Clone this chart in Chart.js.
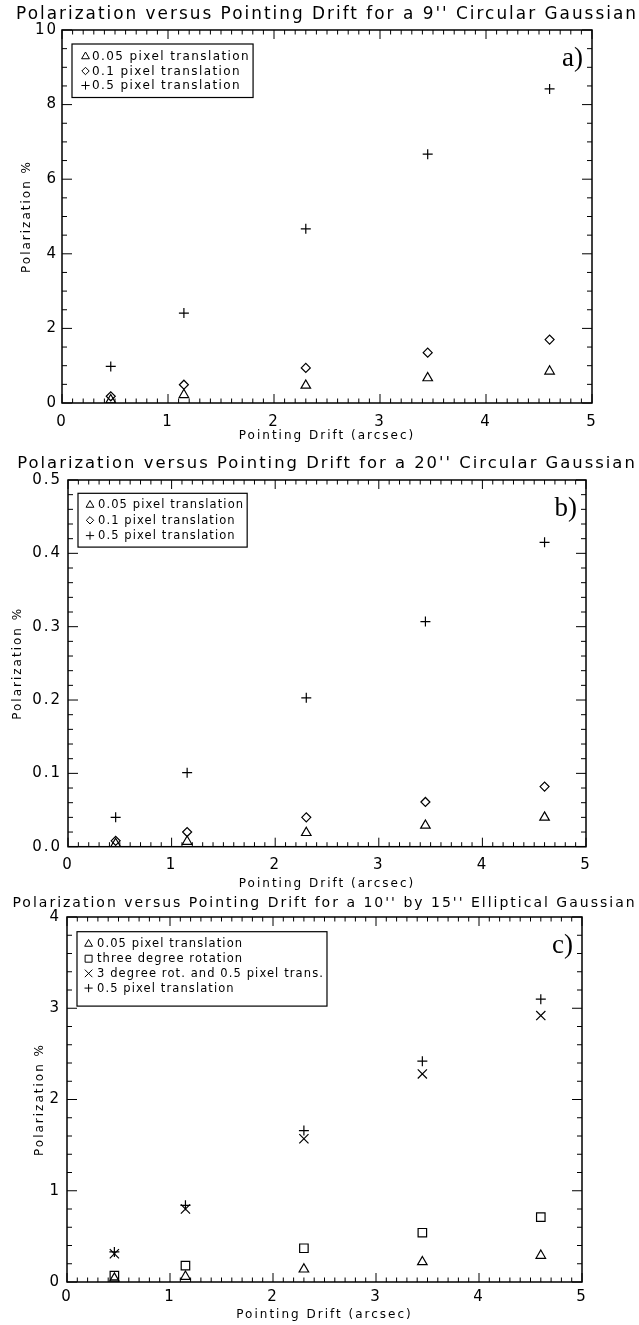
<!DOCTYPE html>
<html>
<head>
<meta charset="utf-8">
<script src="https://cdn.jsdelivr.net/npm/chart.js@4.4.1/dist/chart.umd.min.js"></script>
<style>
  html, body { margin: 0; padding: 0; background: #fff; }
  body { width: 639px; height: 1325px; position: relative; overflow: hidden; }
  .panel { position: absolute; left: 0; width: 639px; }
</style>
</head>
<body>
<div class="panel" style="top:0;height:446px"><canvas id="chartA"></canvas></div>
<div class="panel" style="top:446px;height:448px"><canvas id="chartB"></canvas></div>
<div class="panel" style="top:894px;height:431px"><canvas id="chartC"></canvas></div>
<script>
// pointing drift (arcsec), same for every panel
var drift = [0.46, 1.15, 2.3, 3.45, 4.6];

// a) 9'' circular gaussian
var aTri  = [0.08, 0.22, 0.47, 0.67, 0.85];
var aDia  = [0.18, 0.49, 0.94, 1.35, 1.70];
var aPlus = [0.98, 2.41, 4.67, 6.67, 8.42];

// b) 20'' circular gaussian
var bTri  = [0.004, 0.007, 0.019, 0.029, 0.040];
var bDia  = [0.008, 0.020, 0.040, 0.061, 0.082];
var bPlus = [0.040, 0.101, 0.203, 0.307, 0.415];

// c) 10'' by 15'' elliptical gaussian
var cTri  = [0.04, 0.06, 0.14, 0.22, 0.29];
var cSq   = [0.07, 0.18, 0.37, 0.54, 0.71];
var cX    = [0.31, 0.80, 1.57, 2.28, 2.92];
var cPlus = [0.33, 0.84, 1.66, 2.42, 3.10];

var namesAB = ["0.05 pixel translation", "0.1 pixel translation", "0.5 pixel translation"];
var namesC = ["0.05 pixel translation", "three degree rotation",
              "3 degree rot. and 0.5 pixel trans.", "0.5 pixel translation"];

var xTicks = [0, 1, 2, 3, 4, 5];
var yTicksA = [0, 2, 4, 6, 8, 10];
var yTicksB = [0.0, 0.1, 0.2, 0.3, 0.4, 0.5];
var yTicksC = [0, 1, 2, 3, 4];

var FONT = "DejaVu Sans";
var W = 639;

function isMajor(v, m) {
  return Math.abs(v / m - Math.round(v / m)) < 1e-6;
}

function series(label, values, style, radius) {
  return {
    label: label,
    data: values.map(function (v, i) { return { x: drift[i], y: v }; }),
    pointStyle: style,
    pointRadius: radius,
    pointHoverRadius: radius,
    pointBorderWidth: 1.2,
    borderColor: "#000",
    backgroundColor: "rgba(0,0,0,0)",
    showLine: false
  };
}

// IDL look: closed frame, inward ticks on all sides, boxed legend, panel tag
var idlFrame = {
  id: "idlFrame",
  beforeDraw: function (chart) {
    chart.ctx.letterSpacing = "2px";
  },
  afterDraw: function (chart, args, opts) {
    var ctx = chart.ctx, ca = chart.chartArea;
    var xs = chart.scales.x, ys = chart.scales.y;
    ctx.save();
    ctx.strokeStyle = "#000";
    ctx.lineWidth = 1.5;
    ctx.strokeRect(ca.left, ca.top, ca.right - ca.left, ca.bottom - ca.top);

    ctx.beginPath();
    xs.ticks.forEach(function (t) {
      var px = xs.getPixelForValue(t.value);
      var len = isMajor(t.value, opts.xMajor) ? 9 : 4.5;
      ctx.moveTo(px, ca.bottom); ctx.lineTo(px, ca.bottom - len);
      ctx.moveTo(px, ca.top); ctx.lineTo(px, ca.top + len);
    });
    ys.ticks.forEach(function (t) {
      var py = ys.getPixelForValue(t.value);
      var len = isMajor(t.value, opts.yMajor) ? 10 : 5;
      ctx.moveTo(ca.left, py); ctx.lineTo(ca.left + len, py);
      ctx.moveTo(ca.right, py); ctx.lineTo(ca.right - len, py);
    });
    ctx.lineWidth = 1;
    ctx.stroke();

    // legend box
    var lg = opts.legend;
    var sets = chart.data.datasets;
    ctx.font = lg.size + "px '" + FONT + "'";
    ctx.letterSpacing = lg.ls + "px";
    var w = 0;
    sets.forEach(function (ds) { w = Math.max(w, ctx.measureText(ds.label).width); });
    var bx = ca.left + 10, by = ca.top + lg.top;
    var bh = lg.first + lg.row * (sets.length - 1) + lg.tail;
    ctx.lineWidth = 1.2;
    ctx.strokeRect(bx, by, lg.text + w + 3, bh);
    ctx.textBaseline = "middle";
    ctx.textAlign = "left";
    sets.forEach(function (ds, i) {
      var y = by + lg.first + i * lg.row;
      ctx.fillStyle = "rgba(0,0,0,0)";
      ctx.lineWidth = 1;
      Chart.helpers.drawPoint(ctx, {
        pointStyle: ds.pointStyle, radius: ds.pointRadius * 0.82,
        rotation: 0, borderWidth: 1
      }, bx + lg.mark, y);
      ctx.fillStyle = "#000";
      ctx.fillText(ds.label, bx + lg.text, y + 0.5);
    });

    // panel tag
    ctx.letterSpacing = "0px";
    ctx.font = "27px 'Liberation Serif'";
    ctx.textAlign = "right";
    ctx.fillText(opts.tag, ca.right - 9, ca.top + 29);
    ctx.restore();
  }
};

function makeChart(id, cfg) {
  // shift the full-width title so it centres over the plot, as IDL does
  var shift = cfg.left + cfg.right - W;
  return new Chart(document.getElementById(id), {
    type: "scatter",
    data: { datasets: cfg.datasets },
    plugins: [idlFrame],
    options: {
      responsive: true,
      maintainAspectRatio: false,
      animation: false,
      events: [],
      layout: { padding: { left: shift, right: 0, top: 0, bottom: 0 } },
      plugins: {
        legend: { display: false },
        tooltip: { enabled: false },
        title: {
          display: true,
          text: cfg.title,
          color: "#000",
          font: { family: FONT, size: cfg.titleSize, weight: "normal", lineHeight: 1 },
          padding: cfg.titlePad
        },
        idlFrame: { xMajor: 1, yMajor: cfg.yMajor, tag: cfg.tag, legend: cfg.legend }
      },
      scales: {
        x: {
          type: "linear",
          min: 0, max: 5,
          grid: { display: false, drawTicks: false },
          border: { display: false },
          ticks: {
            stepSize: 0.1, autoSkip: false, maxRotation: 0,
            padding: cfg.xPad, color: "#000",
            font: { family: FONT, size: 15, lineHeight: 1 },
            callback: function (v) {
              return xTicks.indexOf(Math.round(v * 10) / 10) >= 0 ? String(Math.round(v)) : "";
            }
          },
          title: {
            display: true, text: "Pointing Drift (arcsec)", color: "#000",
            font: { family: FONT, size: 12, lineHeight: 1 },
            padding: { top: 0, bottom: 4 }
          },
          afterFit: function (s) { s.height = cfg.xHeight; }
        },
        y: {
          type: "linear",
          min: 0, max: cfg.yMax,
          grid: { display: false, drawTicks: false },
          border: { display: false },
          ticks: {
            stepSize: cfg.yMinor, autoSkip: false,
            padding: cfg.yPad, color: "#000",
            font: { family: FONT, size: 15, lineHeight: 1 },
            callback: function (v) {
              var hit = cfg.yTicks.filter(function (t) { return Math.abs(t - v) < 1e-6; });
              return hit.length ? cfg.yFmt(hit[0]) : "";
            }
          },
          title: {
            display: true, text: "Polarization %", color: "#000",
            font: { family: FONT, size: 12, lineHeight: 1 },
            padding: { top: cfg.yTitleX - 6 - shift, bottom: 0 }
          },
          afterFit: function (s) { s.width = cfg.left - shift; }
        },
        yRight: {
          type: "linear",
          position: "right",
          min: 0, max: 1,
          grid: { display: false, drawTicks: false },
          border: { display: false },
          ticks: { display: false },
          afterFit: function (s) { s.width = W - cfg.right; }
        }
      }
    }
  });
}

makeChart("chartA", {
  title: "Polarization versus Pointing Drift for a 9'' Circular Gaussian",
  titleSize: 16.9,
  tag: "a)",
  datasets: [
    series(namesAB[0], aTri, "triangle", 5.5),
    series(namesAB[1], aDia, "rectRot", 4.5),
    series(namesAB[2], aPlus, "cross", 5)
  ],
  yMax: 10, yMinor: 0.5, yMajor: 2, yTicks: yTicksA,
  yFmt: function (v) { return String(v); },
  left: 62, right: 592,
  titlePad: { top: 5.9, bottom: 7.2 },
  xHeight: 43, xPad: 11.5, yPad: 4, yTitleX: 27,
  legend: { size: 12, ls: 1.4, top: 14, first: 12.5, row: 14.5, tail: 12, mark: 13.5, text: 20 }
});

makeChart("chartB", {
  title: "Polarization versus Pointing Drift for a 20'' Circular Gaussian",
  titleSize: 16.4,
  tag: "b)",
  datasets: [
    series(namesAB[0], bTri, "triangle", 5.5),
    series(namesAB[1], bDia, "rectRot", 4.5),
    series(namesAB[2], bPlus, "cross", 5)
  ],
  yMax: 0.5, yMinor: 0.02, yMajor: 0.1, yTicks: yTicksB,
  yFmt: function (v) { return v.toFixed(1); },
  left: 68, right: 586,
  titlePad: { top: 9.2, bottom: 8.4 },
  xHeight: 47.3, xPad: 10.8, yPad: 6, yTitleX: 18,
  legend: { size: 11.5, ls: 1.1, top: 13.3, first: 11.7, row: 15.3, tail: 11.5, mark: 12, text: 20 }
});

makeChart("chartC", {
  title: "Polarization versus Pointing Drift for a 10'' by 15'' Elliptical Gaussian",
  titleSize: 14,
  tag: "c)",
  datasets: [
    series(namesC[0], cTri, "triangle", 5.5),
    series(namesC[1], cSq, "rect", 6),
    series(namesC[2], cX, "crossRot", 6.5),
    series(namesC[3], cPlus, "cross", 5)
  ],
  yMax: 4, yMinor: 0.2, yMajor: 1, yTicks: yTicksC,
  yFmt: function (v) { return String(v); },
  left: 67, right: 582,
  titlePad: { top: 2.8, bottom: 6.2 },
  xHeight: 43, xPad: 7.5, yPad: 6, yTitleX: 40,
  legend: { size: 11.5, ls: 1.1, top: 14.7, first: 12.3, row: 14.7, tail: 18, mark: 11.6, text: 20 }
});
</script>
</body>
</html>
